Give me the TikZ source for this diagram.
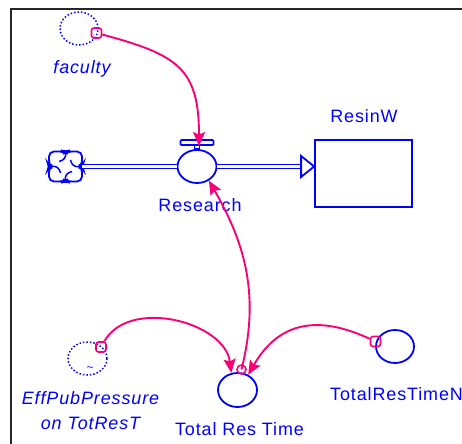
\documentclass[tikz,border=0pt]{standalone}
\usepackage{fontspec}
\setmainfont{Liberation Sans}[LetterSpace=5]
\usetikzlibrary{arrows.meta,shapes.geometric}
\definecolor{vblue}{RGB}{0,0,255}
\definecolor{vpink}{RGB}{250,0,120}
\tikzset{
  aux/.style={ellipse,draw=vblue,line width=1.8pt,minimum width=38bp,minimum height=33bp,inner sep=0pt},
  ghost/.style={aux,line width=1.5pt,dotted},
  stock/.style={rectangle,draw=vblue,line width=1.8pt,minimum width=97bp,minimum height=67bp,inner sep=0pt},
  cloudbox/.style={rectangle,minimum width=33bp,minimum height=30bp,inner sep=0pt},
  flowline/.style={draw=vblue,line width=1.8pt},
  pipe/.style={draw=vblue,double=white,line width=1.4pt,double distance=2.2pt},
  lbl/.style={text=vblue,font=\fontsize{18}{25}\selectfont,inner sep=0pt,anchor=base},
  ilbl/.style={lbl,font=\fontsize{18}{25.5}\selectfont\itshape},
  tag/.style={rectangle,draw=vpink,line width=1.6pt,rounded corners=2.5pt,minimum size=10bp,inner sep=0pt},
  ring/.style={circle,draw=vpink,line width=1.6pt,minimum size=9bp,inner sep=0pt},
  infl/.style={draw=vpink,line width=1.9pt,-{Stealth[length=14bp,width=12bp,inset=2.5bp]}},
}
\begin{document}
\begin{tikzpicture}[x=1bp,y=1bp]
\useasboundingbox (0,0) rectangle (462,-444);
\draw[black!85,line width=2bp] (11,-444) |- (462,-9.5);

% stock and flow
\node[stock] (resinw) at (363.5,-173.5) {};
\node[lbl] (resinwlbl) at (364,-123) {ResinW};
\node[aux,minimum width=39bp] (research) at (197,-166.5) {};
\node[lbl] (researchlbl) at (200,-212) {Research};
\node[cloudbox] (source) at (65.5,-166.5) {};
\draw[flowline,rounded corners=5bp,shift={(source.center)}] (0,14) -- (2,15) -- (16.5,15) -- (16.5,2) -- (15,0) -- (16.5,-2)
  -- (16.5,-15) -- (2,-15) -- (0,-14) -- (-2,-15) -- (-16.5,-15) -- (-16.5,-2) -- (-15,0) -- (-16.5,2) -- (-16.5,15) -- (-2,15) -- cycle;
\foreach \a in {0,90,180,270}
  \draw[flowline,line width=1.5pt,rotate around={\a:(65.5,-166.5)}] (65.5,-152.5) .. controls (66.5,-157) and (64,-160.5) .. (59,-161.5);
\coordinate (flowtip) at (resinw.west |- research.center);
\draw[pipe] (source) -- (research);
\draw[pipe] (research) -- ([xshift=-13bp]flowtip);
\draw[flowline,fill=white] (flowtip) -- ++(-13,10.5) -- ++(0,-21) -- cycle;
\draw[flowline,rounded corners=1pt] ([shift={(-16.5,4)}]research.north) rectangle ([shift={(16.5,9)}]research.north);
\draw[flowline] ([shift={(-2.5,0)}]research.north) rectangle ([shift={(2.5,4)}]research.north);

% auxiliaries
\node[ghost] (faculty) at (79,-28.5) {};
\node[ilbl] (facultylbl) at (82,-74) {faculty};
\node[ghost,minimum width=39bp] (effpub) at (87.5,-358.5) {};
\node[text=vblue,font=\fontsize{12}{12}\selectfont,inner sep=0pt] (effpubsym) at (90,-369) {\textasciitilde};
\node[ilbl,align=center,anchor=north] (effpublbl) at (90.5,-391) {EffPubPressure\\on TotResT};
\node[aux,minimum width=39bp,minimum height=34bp] (trt) at (237.5,-390) {};
\node[lbl] (trtlbl) at (239.5,-435) {Total Res Time};
\node[aux] (trtn) at (395,-346.5) {};
\node[lbl,anchor=base west] (trtnlbl) at (330,-400) {TotalResTimeN};

% influences
\node[tag] (facmark) at (96.5,-33) {};
\node[tag] (effmark) at (101,-347) {};
\node[tag] (trtnmark) at (375.5,-341.5) {};
\node[ring] (trtmark) at (241.5,-369.5) {};
\draw[infl] (facmark) to[out=-15,in=90,looseness=1.35] ([shift={(2,3)}]research.north);
\draw[infl] (trtmark.center) to[out=76,in=-60] (research.-50);
\draw[infl] (effmark) to[out=60,in=97] (trt.110);
\draw[infl] (trtnmark) to[out=155,in=60,looseness=1.2] (trt.55);
\end{tikzpicture}
\end{document}
